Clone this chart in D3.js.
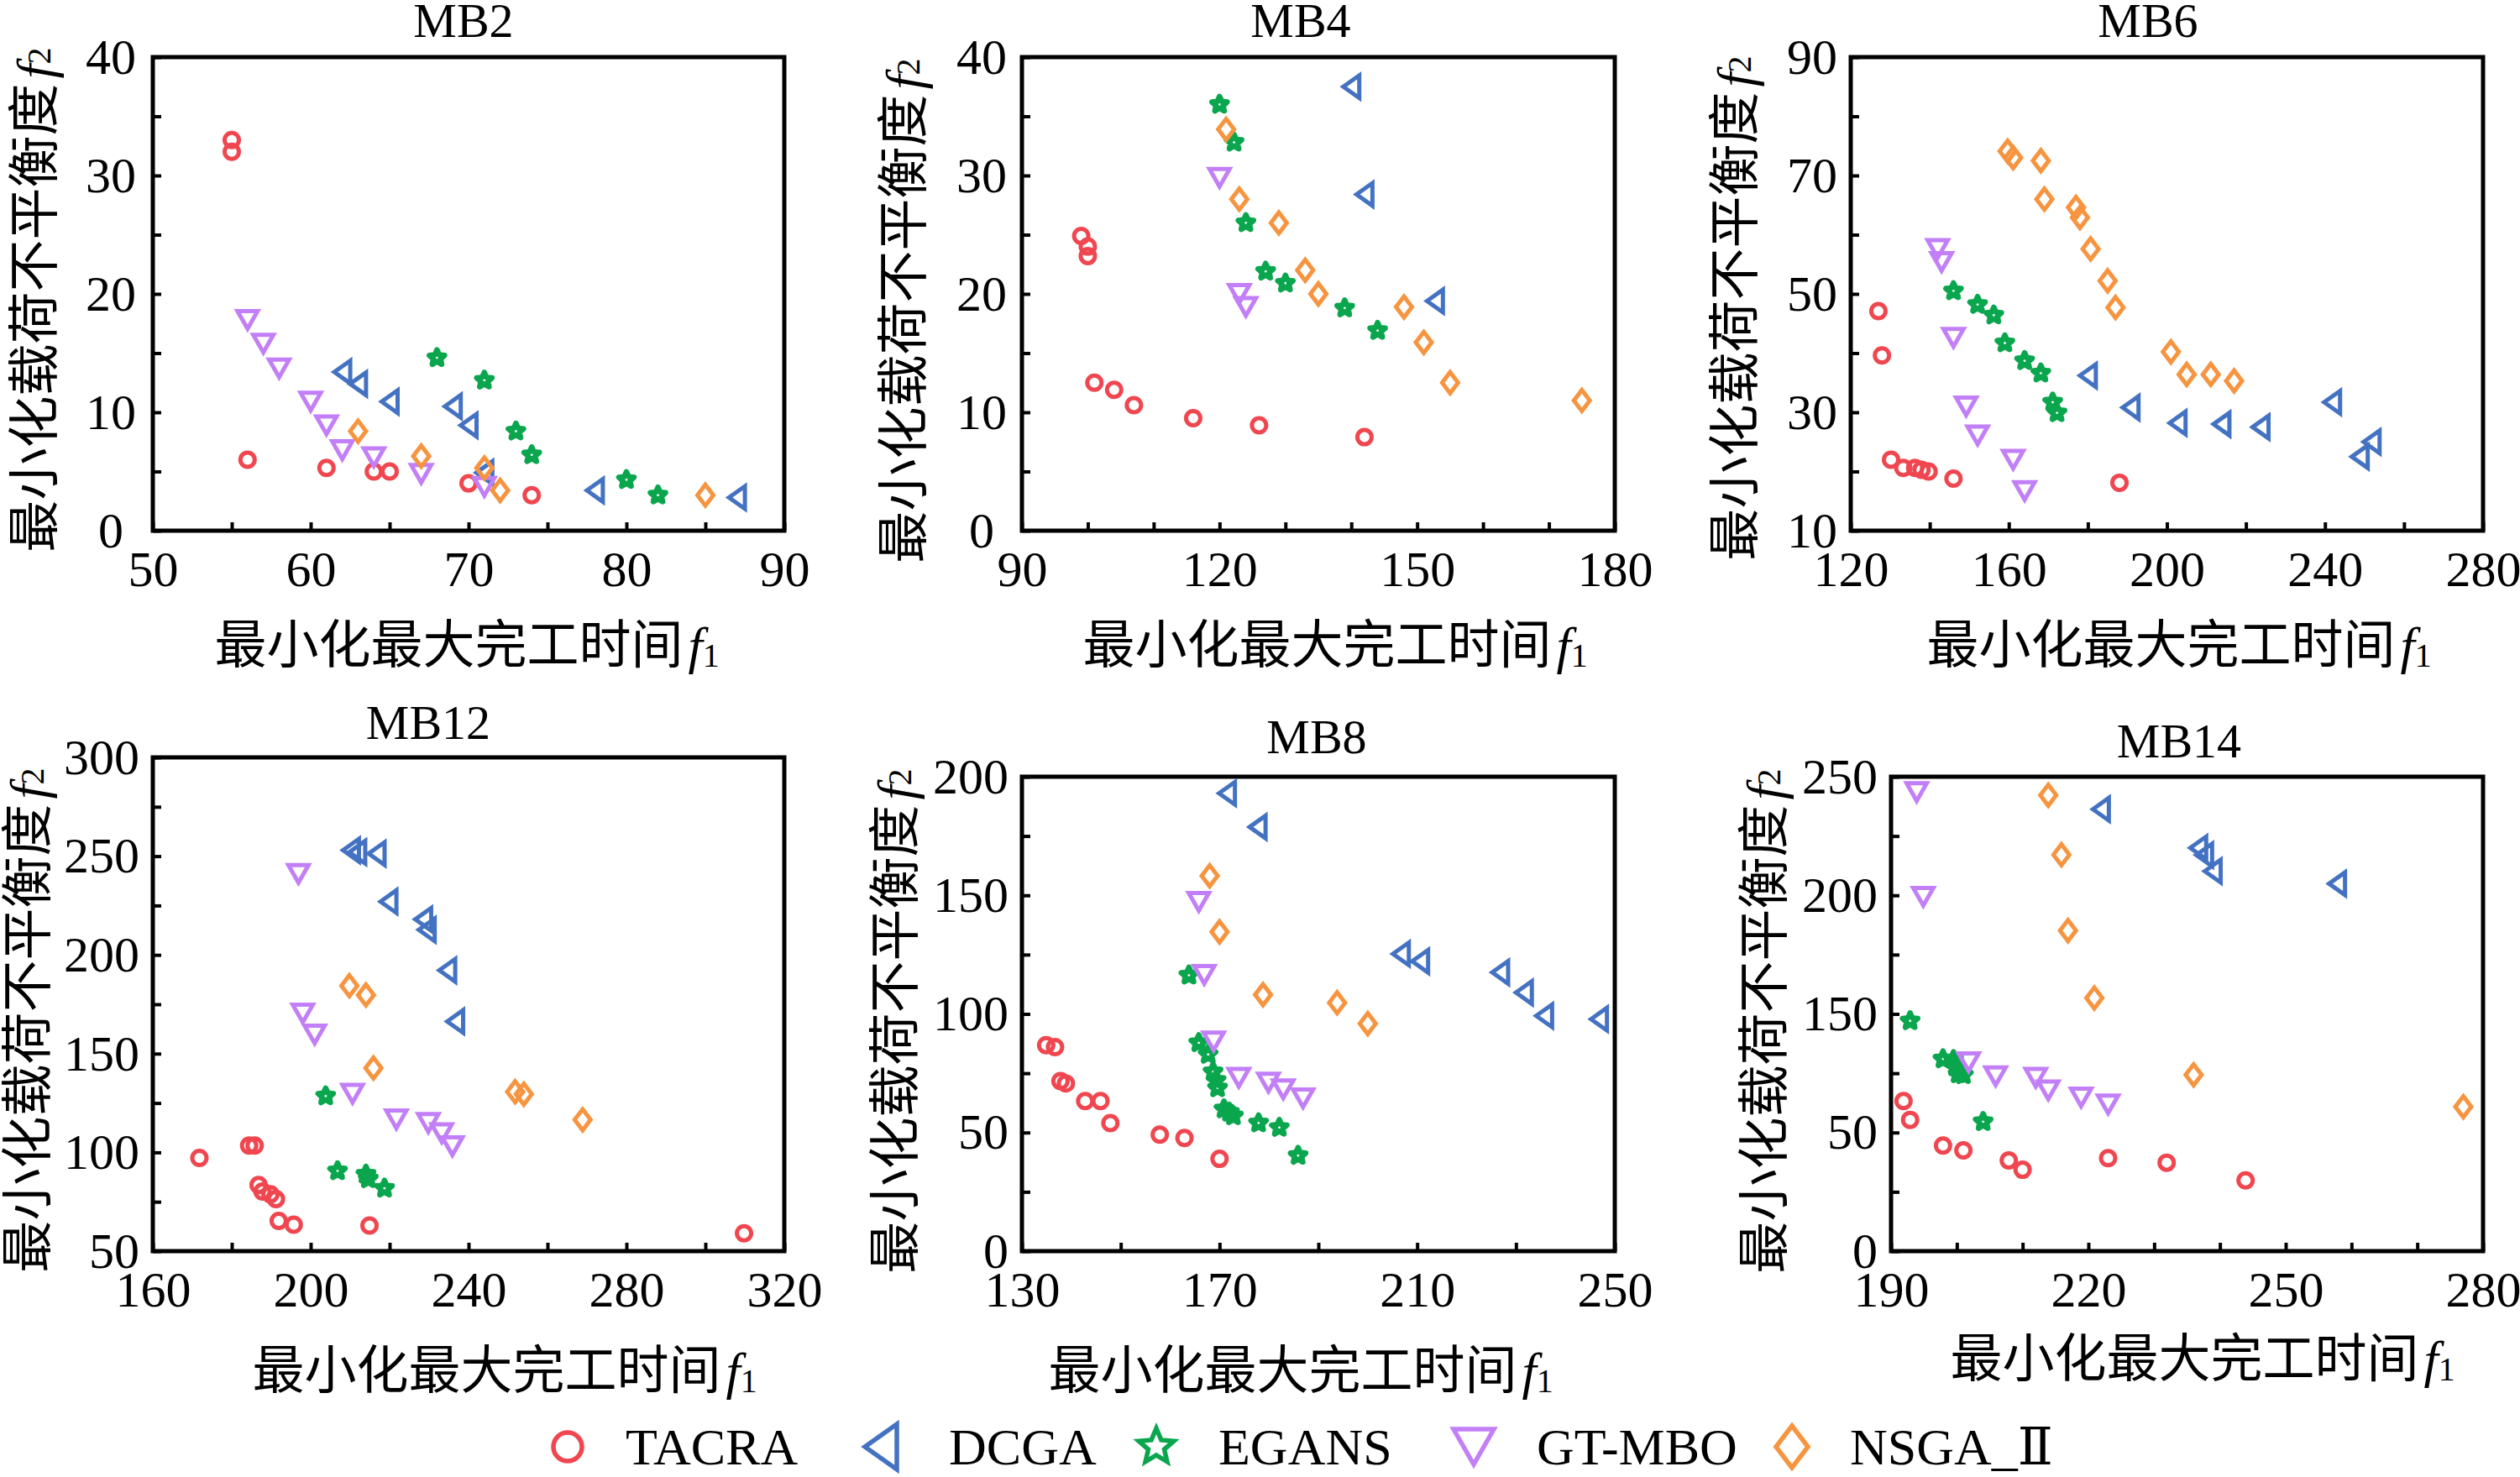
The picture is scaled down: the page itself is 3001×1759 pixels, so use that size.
<!DOCTYPE html>
<html lang="zh">
<head>
<meta charset="UTF-8">
<title>MB pareto fronts</title>
<style>
  body { margin: 0; overflow: hidden; background: #fff; }
</style>
</head>
<body>
<script src="https://cdnjs.cloudflare.com/ajax/libs/d3/7.8.5/d3.min.js"></script>
<script>
// algorithms
const algos = ['TACRA', 'DCGA', 'EGANS', 'GT-MBO', 'NSGA_Ⅱ'];

// MB2  [f1, f2]
const mb2TACRA = [[55,33],[55,32],[56,6],[61,5.3],[64,5],[65,5],[70,4],[74,3]];
const mb2DCGA  = [[62,13.4],[63,12.4],[65,10.9],[69,10.5],[70,8.9],[71,4.9],[78,3.4],[87,2.8]];
const mb2EGANS = [[68,14.6],[71,12.7],[73,8.4],[74,6.4],[80,4.3],[82,3.0]];
const mb2GTMBO = [[56,17.8],[57,15.8],[58,13.7],[60,10.9],[61,8.9],[62,6.8],[64,6.2],[67,4.8],[71,3.7]];
const mb2NSGA  = [[63,8.4],[67,6.3],[71,5.3],[72,3.4],[85,3.0]];

// MB4
const mb4TACRA = [[99,24.9],[100,24],[100,23.2],[101,12.5],[104,11.9],[107,10.6],[116,9.5],[126,8.9],[142,7.9]];
const mb4DCGA  = [[140,37.5],[142,28.4],[152.7,19.4]];
const mb4EGANS = [[120,36],[122.2,32.8],[124,26],[127,21.9],[130,20.9],[139,18.8],[144,16.9]];
const mb4GTMBO = [[120,29.8],[123,20],[124,18.9]];
const mb4NSGA  = [[121,33.9],[123,28],[129,26],[133,22],[135,20],[148,18.9],[151,15.9],[155,12.5],[175,11]];

// MB6
const mb6TACRA = [[127,47.1],[127.9,39.6],[130.2,22],[133.3,20.6],[136.3,20.6],[137.9,20.3],[139.7,20],[146,18.8],[188,18.1]];
const mb6DCGA  = [[180,36.2],[190.8,30.8],[202.7,28.2],[213.8,28],[223.7,27.5],[241.8,31.7],[248.8,22.5],[251.8,25]];
const mb6EGANS = [[146,50.5],[152.1,48.2],[156.2,46.4],[159,41.7],[164,38.7],[168.1,36.6],[171.1,31.7],[172.2,29.9]];
const mb6GTMBO = [[142,57.6],[143,55.4],[146,42.6],[149.2,31],[152.1,26.1],[161.1,22],[164,16.7]];
const mb6NSGA  = [[159.7,74.1],[161.1,73],[168.1,72.5],[169,66],[177,64.6],[178,62.9],[180.7,57.6],[185,52.2],[187,47.7],[201,40.2],[205,36.4],[211.1,36.4],[217,35.3]];

// MB12
const mb12TACRA = [[171.8,97.2],[184.4,103.5],[185.8,103.5],[186.8,83.5],[187.8,80.2],[189.8,78.8],[191.2,76.4],[191.9,65.3],[195.7,63.4],[214.9,63],[309.8,59]];
const mb12DCGA  = [[210.2,253],[211.8,252],[216.7,251.3],[219.7,227],[228.5,218],[229.4,212.7],[234.6,192.2],[236.6,166.3]];
const mb12EGANS = [[203.8,128.5],[206.8,90.6],[214,88.9],[214.6,86.6],[218.7,81.8]];
const mb12GTMBO = [[196.9,241],[198,170.3],[201,159.7],[210.6,129.7],[221.7,116.7],[229.8,114.9],[233.2,109.7],[235.9,103.1]];
const mb12NSGA  = [[209.8,184.4],[214,179.7],[215.9,142.7],[251.8,130.7],[254,129.5],[268.9,116.5]];

// MB8
const mb8TACRA = [[134.9,86.8],[136.7,86],[137.8,71.7],[138.9,70.7],[142.8,63.3],[145.9,63.3],[147.9,54],[157.9,49.1],[162.9,47.7],[170,38.9]];
const mb8DCGA  = [[171.5,193],[177.7,178.8],[206.7,125.3],[210.6,122.2],[226.8,117.5],[231.6,109],[235.7,99.2],[246.8,97.8]];
const mb8EGANS = [[163.8,116.3],[165.8,87.8],[167.7,82.9],[168.7,75.6],[169.3,72],[169.6,68.8],[170.9,59.9],[172,58.5],[172.8,57],[177.9,54],[182.1,52.1],[185.9,40.3]];
const mb8GTMBO = [[165.8,147.3],[166.9,116.5],[168.8,88.4],[173.9,73.1],[179.9,71.1],[182.9,68.2],[186.9,64.4]];
const mb8NSGA  = [[168,158.2],[170,134.6],[178.8,108.1],[193.8,104.7],[200,95.9]];

// MB14 (y axis labels in the source run 0,50,150,200,250 at equal spacing)
const mb14TACRA = [[191.9,76.5],[192.9,60.7],[197.9,44.5],[201,42.5],[207.9,38.2],[210,34.3],[223,39.2],[231.9,37.3],[243.9,29.8]];
const mb14DCGA  = [[221.9,236.3],[236.7,220],[237.6,217],[238.9,210.2],[257.8,204.9]];
const mb14EGANS = [[192.9,144.1],[197.9,112],[199.5,111.3],[199.8,105.3],[200.2,99.4],[201,98.6],[204,59.1]];
const mb14GTMBO = [[193.9,243.5],[194.9,199.4],[201.8,109.3],[205.9,97.4],[212,96.2],[213.9,85.6],[218.9,79.6],[223,73.7]];
const mb14NSGA  = [[213.9,242.2],[215.9,217.1],[216.9,185.1],[220.9,156.7],[236,98.6],[277,71.7]];

// tick labels
const mb2X = [50,60,70,80,90],        mb2Y = [0,10,20,30,40];
const mb4X = [90,120,150,180],        mb4Y = [0,10,20,30,40];
const mb6X = [120,160,200,240,280],   mb6Y = [10,30,50,70,90];
const mb12X = [160,200,240,280,320],  mb12Y = [50,100,150,200,250,300];
const mb8X = [130,170,210,250],       mb8Y = [0,50,100,150,200];
const mb14X = [190,220,250,280],      mb14Y = [0,50,150,200,250];

const colors = ['#f0464f', '#4472c2', '#0aa64e', '#c27ff7', '#f7943f'];

const W = 3001, H = 1759;
const FONT = '"Liberation Serif","Times New Roman","Noto Sans CJK SC",serif';

const panels = [
  {title:'MB2',  sets:[mb2TACRA,mb2DCGA,mb2EGANS,mb2GTMBO,mb2NSGA], box:[182,68,934,632],
   xt:mb2X, xs:2, yt:mb2Y, ys:2, tp:[552,44], xl:[556,790], yl:[42,357], ymid:50},
  {title:'MB4',  sets:[mb4TACRA,mb4DCGA,mb4EGANS,mb4GTMBO,mb4NSGA], box:[1217,68,1923,632],
   xt:mb4X, xs:3, yt:mb4Y, ys:2, tp:[1549,44], xl:[1590,790], yl:[1077,370], ymid:48},
  {title:'MB6',  sets:[mb6TACRA,mb6DCGA,mb6EGANS,mb6GTMBO,mb6NSGA], box:[2204,68,2957,632],
   xt:mb6X, xs:2, yt:mb6Y, ys:2, tp:[2558,44], xl:[2595,790], yl:[2067,367]},
  {title:'MB12', sets:[mb12TACRA,mb12DCGA,mb12EGANS,mb12GTMBO,mb12NSGA], box:[182,902,934,1490],
   xt:mb12X, xs:2, yt:mb12Y, ys:2, tp:[510,880], xl:[601,1654], yl:[34,1215]},
  {title:'MB8',  sets:[mb8TACRA,mb8DCGA,mb8EGANS,mb8GTMBO,mb8NSGA], box:[1217,925,1923,1490],
   xt:mb8X, xs:2, yt:mb8Y, ys:2, tp:[1568,897], xl:[1549,1654], yl:[1067,1216]},
  {title:'MB14', sets:[mb14TACRA,mb14DCGA,mb14EGANS,mb14GTMBO,mb14NSGA], box:[2252,925,2957,1490],
   xt:mb14X, xs:3, yt:mb14Y, ys:2, tp:[2595,902], xl:[2623,1640], yl:[2102,1216]}
];

// marker paths, k = scale
function markerPath(i, k) {
  if (i === 0) { // circle
    const r = 8.5 * k;
    return `M${r},0A${r},${r} 0 1,1 ${-r},0A${r},${r} 0 1,1 ${r},0Z`;
  }
  if (i === 1) { // triangle left
    const w = 9.5 * k, h = 13.5 * k;
    return `M${-w},0L${w},${-h}L${w},${h}Z`;
  }
  if (i === 2) { // star
    const ro = (k > 1 ? 11 : 9.5) * k, ri = (k > 1 ? 5 : 4.4) * k;
    const p = d3.path();
    for (let j = 0; j < 10; j++) {
      const a = -Math.PI / 2 + j * Math.PI / 5;
      const r = j % 2 ? ri : ro;
      j ? p.lineTo(r * Math.cos(a), r * Math.sin(a)) : p.moveTo(r * Math.cos(a), r * Math.sin(a));
    }
    p.closePath();
    return p.toString();
  }
  if (i === 3) { // triangle down
    const w = 12 * k, h = 10.5 * k;
    return `M${-w},${-h}L${w},${-h}L0,${h}Z`;
  }
  // diamond
  const w = 9.5 * k, h = 12.5 * k;
  return `M0,${-h}L${w},0L0,${h}L${-w},0Z`;
}

function subTicks(major, n) {
  const out = [];
  for (let i = 0; i < major.length - 1; i++) {
    for (let k = 0; k < n; k++) out.push(major[i] + k * (major[i + 1] - major[i]) / n);
  }
  out.push(major[major.length - 1]);
  return out;
}

const svg = d3.select('body').append('svg')
  .attr('width', W).attr('height', H)
  .style('font-family', FONT);

svg.append('rect').attr('width', W).attr('height', H).attr('fill', '#fff');

panels.forEach(p => {
  const [L, T, R, B] = p.box;
  const x = d3.scaleLinear().domain([p.xt[0], p.xt[p.xt.length - 1]]).range([L, R]);
  const y = d3.scaleLinear().domain(p.yt)
    .range(p.yt.map((d, i) => B - i * (B - T) / (p.yt.length - 1)));

  const g = svg.append('g');

  // x axis
  const xa = g.append('g').attr('transform', `translate(0,${B})`)
    .call(d3.axisBottom(x).tickValues(subTicks(p.xt, p.xs))
      .tickSizeInner(-10).tickSizeOuter(0).tickPadding(23)
      .tickFormat(d => p.xt.includes(d) ? d : ''));
  // y axis
  const ya = g.append('g').attr('transform', `translate(${L},0)`)
    .call(d3.axisLeft(y).tickValues(subTicks(p.yt, p.ys))
      .tickSizeInner(-10).tickSizeOuter(0).tickPadding(16)
      .tickFormat(d => p.yt.includes(d) ? d : ''));

  [xa, ya].forEach(a => {
    a.select('.domain').remove();
    a.selectAll('line').attr('stroke', '#000').attr('stroke-width', 4);
    a.selectAll('text').attr('font-family', FONT).attr('font-size', 60).attr('fill', '#000');
  });
  if (p.ymid) ya.selectAll('text').attr('text-anchor', 'middle').attr('x', -p.ymid);

  // frame
  g.append('rect').attr('x', L).attr('y', T).attr('width', R - L).attr('height', B - T)
    .attr('fill', 'none').attr('stroke', '#000').attr('stroke-width', 5);

  // points
  p.sets.forEach((set, i) => {
    g.append('g').selectAll('path').data(set).join('path')
      .attr('transform', d => `translate(${x(d[0])},${y(d[1])})`)
      .attr('d', markerPath(i, 1))
      .attr('fill', 'none')
      .attr('stroke', colors[i])
      .attr('stroke-width', i === 2 ? 6.5 : 5)
      .attr('stroke-linejoin', i === 2 ? 'round' : 'miter');
  });

  // title
  g.append('text').attr('x', p.tp[0]).attr('y', p.tp[1]).attr('text-anchor', 'middle')
    .attr('font-size', 58).text(p.title);

  // x label
  const xt = g.append('text').attr('x', p.xl[0]).attr('y', p.xl[1]).attr('text-anchor', 'middle')
    .attr('font-size', 62);
  xt.append('tspan').text('最小化最大完工时间');
  xt.append('tspan').attr('font-style', 'italic').attr('dx', 6).text('f');
  xt.append('tspan').attr('font-size', 40).attr('dy', 4).text('1');

  // y label
  const yt = g.append('text')
    .attr('transform', `translate(${p.yl[0]},${p.yl[1]}) rotate(-90)`)
    .attr('text-anchor', 'middle').attr('dominant-baseline', 'central')
    .attr('font-size', 62);
  yt.append('tspan').text('最小化载荷不平衡度');
  yt.append('tspan').attr('font-style', 'italic').attr('dx', 6).text('f');
  yt.append('tspan').attr('font-size', 40).attr('dy', 4).text('2');
});

// legend
const legX = [676, 1049, 1377, 1755, 2134];
const legTextX = [745, 1130, 1451, 1830, 2203];
const legY = 1723;
const leg = svg.append('g');
algos.forEach((name, i) => {
  leg.append('path')
    .attr('transform', `translate(${legX[i]},${legY})`)
    .attr('d', markerPath(i, 2))
    .attr('fill', 'none')
    .attr('stroke', colors[i])
    .attr('stroke-width', 5.5);
  const t = leg.append('text').attr('x', legTextX[i]).attr('y', legY + 21)
    .attr('font-size', 62);
  // keep the roman numeral in a serif face
  const m = name.match(/^(.*?)(Ⅱ)?$/);
  t.append('tspan').text(m[1]);
  if (m[2]) t.append('tspan').attr('font-family', '"DejaVu Serif",' + FONT).text(m[2]);
});
</script>
</body>
</html>
